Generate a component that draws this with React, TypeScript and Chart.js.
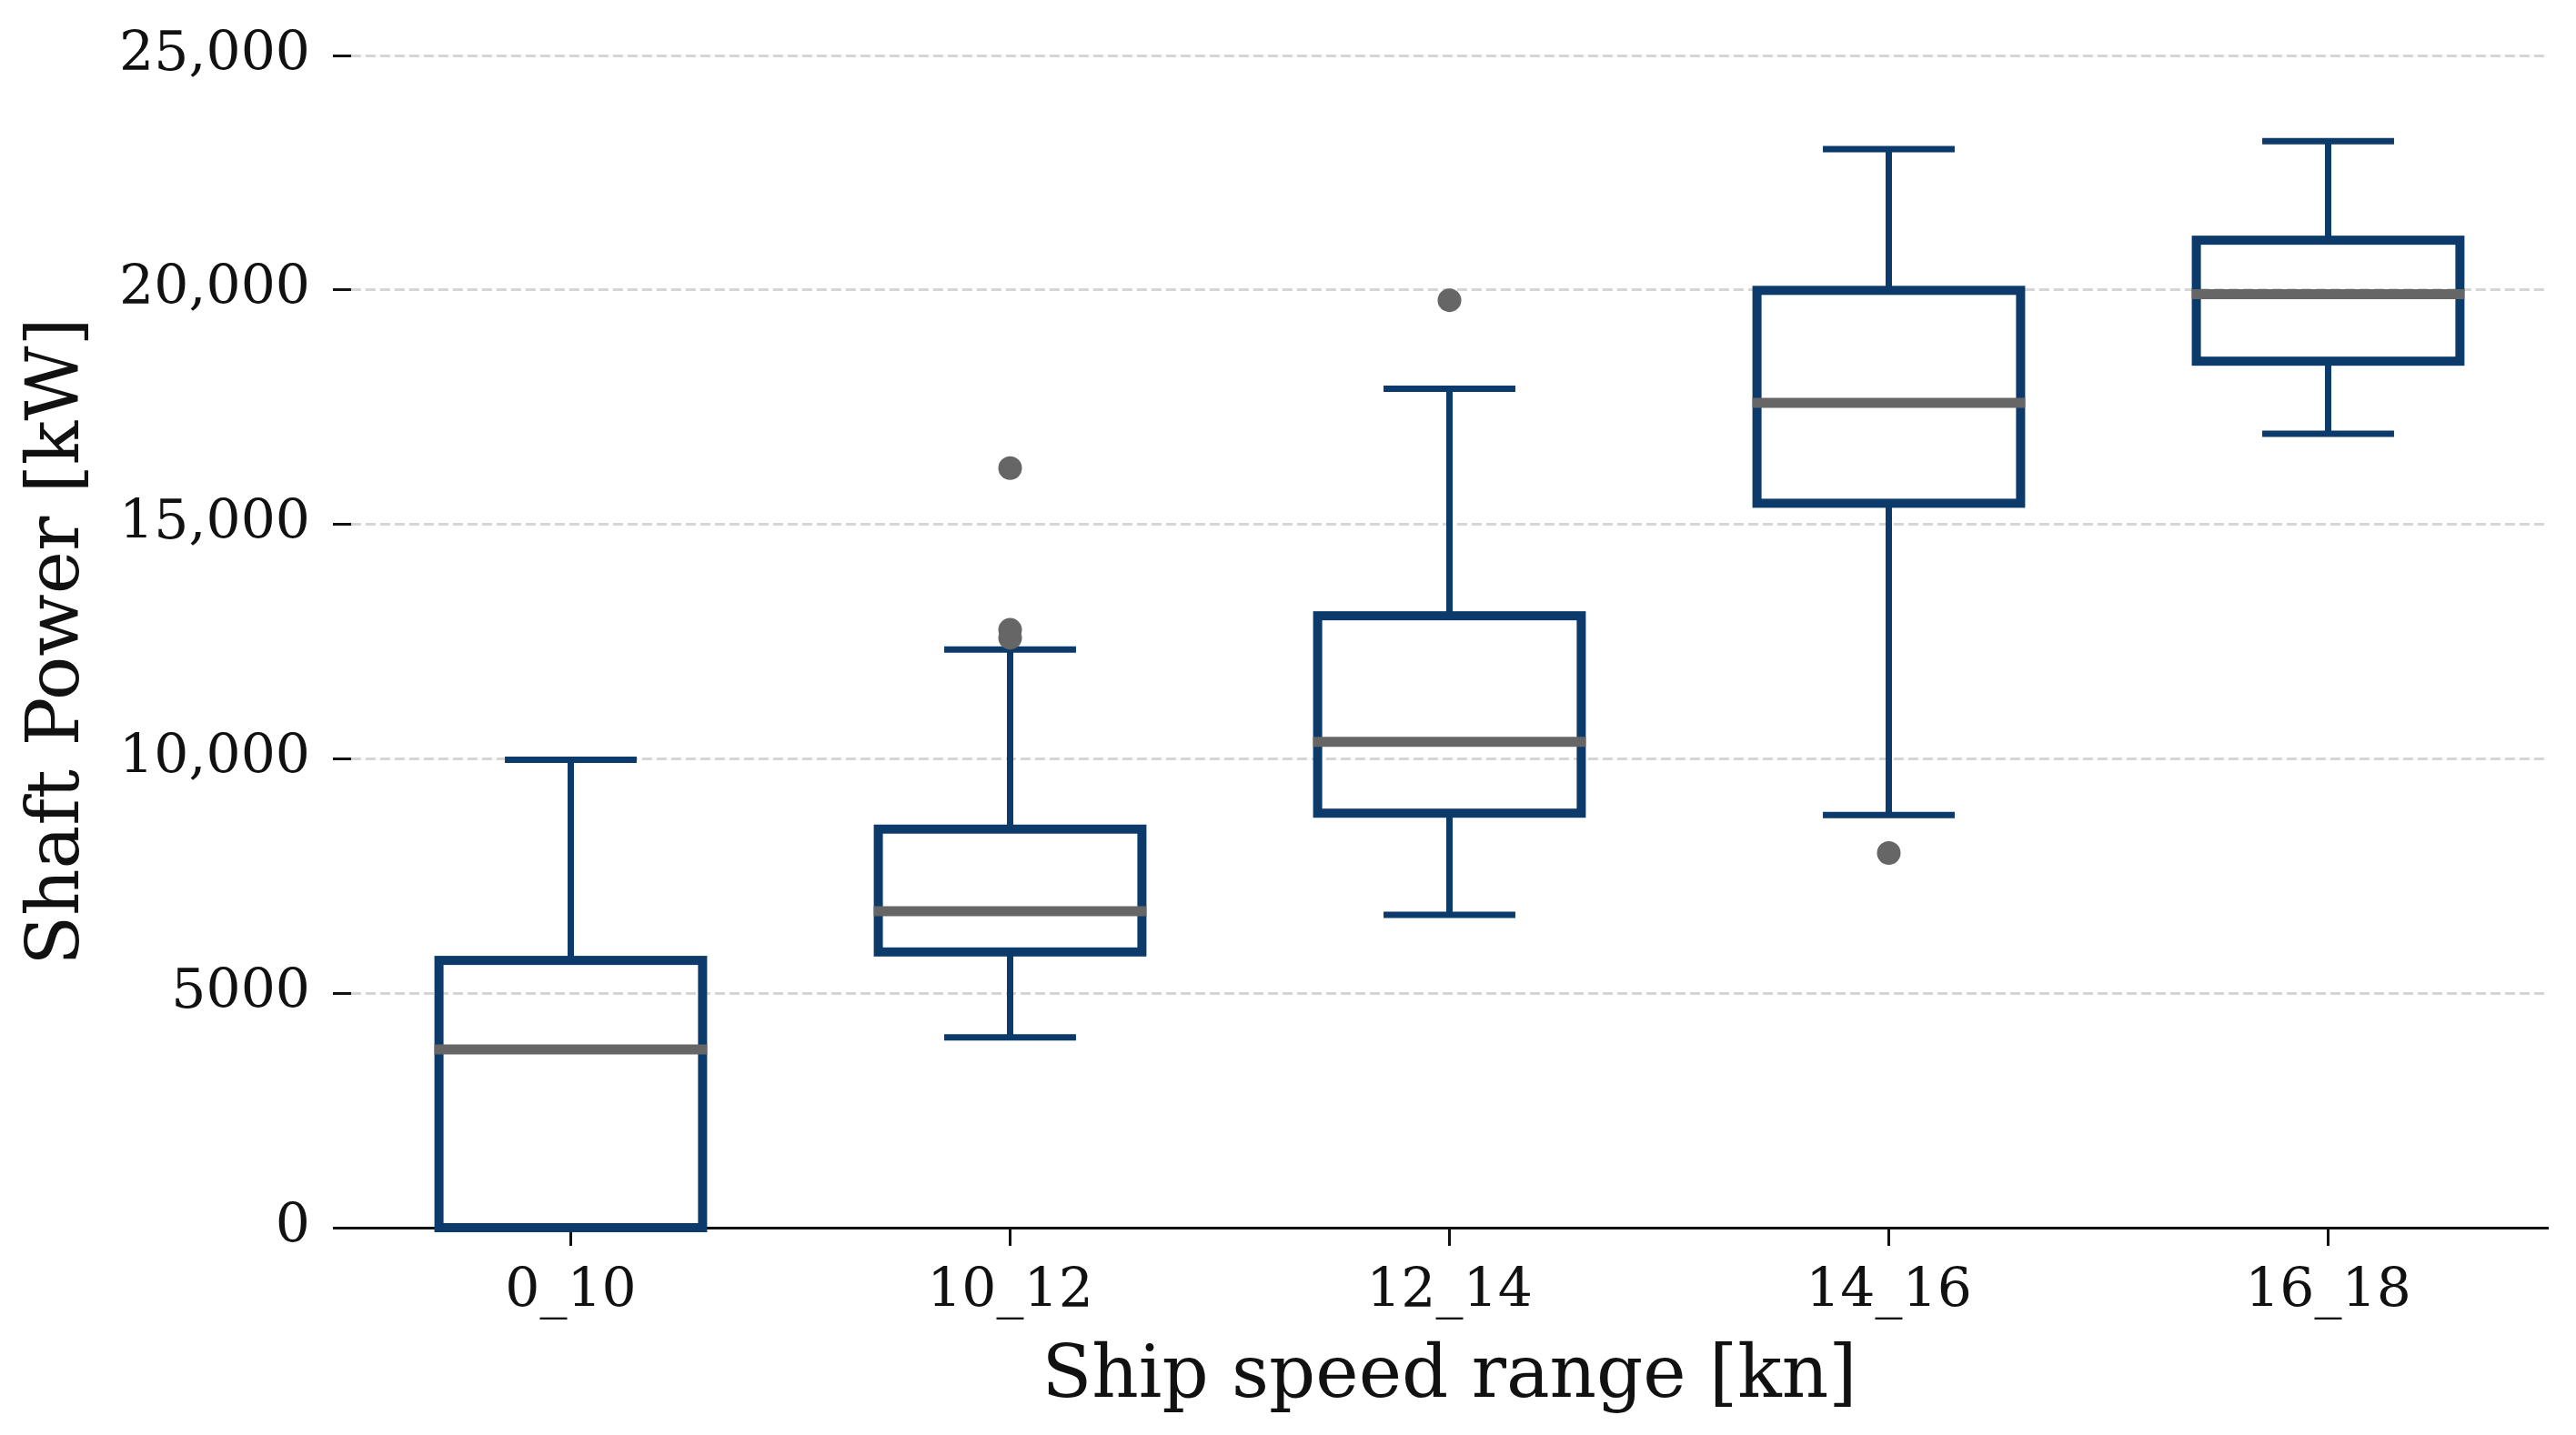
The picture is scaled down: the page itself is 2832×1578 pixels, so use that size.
import { useEffect, useRef } from 'react';
import { Chart, registerables } from 'chart.js';

Chart.register(...registerables);

// box statistics per speed range
const categories = ['0_10', '10_12', '12_14', '14_16', '16_18'];
const whiskerLow = [0, 4060, 6670, 8800, 16930];
const q1 = [0, 5880, 8840, 15450, 18480];
const medians = [3800, 6750, 10360, 17590, 19910];
const q3 = [5700, 8500, 13050, 19990, 21060];
const whiskerHigh = [9980, 12330, 17890, 23000, 23170];

// fliers
const outlierCategories = ['10_12', '10_12', '10_12', '12_14', '14_16'];
const outlierValues = [16200, 12750, 12580, 19780, 7990];

const yTickLabels = ['0', '5000', '10,000', '15,000', '20,000', '25,000'];

const NAVY = '#0b3a6b';
const GREY = '#666666';
const FONT = "'DejaVu Serif', serif";
const BOX_LINE = 10;

// box outline (centred on the quartiles), whiskers, caps and medians,
// drawn on top of the invisible floating bars that give the positions
const boxExtras = {
  id: 'boxExtras',
  afterDatasetDraw(chart: any, args: any) {
    if (args.index !== 0) return;
    const { ctx } = chart;
    const yScale = chart.scales.y;
    const meta = chart.getDatasetMeta(0);
    ctx.save();
    meta.data.forEach((bar: any, i: number) => {
      const x = bar.x;
      const half = bar.width / 2;
      const capHalf = bar.width / 4;
      const yQ1 = yScale.getPixelForValue(q1[i]);
      const yQ3 = yScale.getPixelForValue(q3[i]);
      const yLo = yScale.getPixelForValue(whiskerLow[i]);
      const yHi = yScale.getPixelForValue(whiskerHigh[i]);
      const yMed = yScale.getPixelForValue(medians[i]);

      ctx.strokeStyle = NAVY;
      ctx.lineCap = 'butt';
      ctx.lineWidth = 7;
      ctx.beginPath();
      ctx.moveTo(x, yQ3);
      ctx.lineTo(x, yHi);
      ctx.moveTo(x, yQ1);
      ctx.lineTo(x, yLo);
      ctx.stroke();

      ctx.beginPath();
      ctx.moveTo(x - capHalf, yHi);
      ctx.lineTo(x + capHalf, yHi);
      ctx.moveTo(x - capHalf, yLo);
      ctx.lineTo(x + capHalf, yLo);
      ctx.stroke();

      ctx.lineWidth = BOX_LINE;
      ctx.lineJoin = 'miter';
      ctx.strokeRect(x - half, yQ3, half * 2, yQ1 - yQ3);

      ctx.strokeStyle = GREY;
      ctx.lineWidth = 11;
      ctx.beginPath();
      ctx.moveTo(x - half - BOX_LINE / 2, yMed);
      ctx.lineTo(x + half + BOX_LINE / 2, yMed);
      ctx.stroke();
    });
    ctx.restore();
  },
};

export default function App() {
  const chartRef = useRef<HTMLCanvasElement>(null);
  const chartInstance = useRef<Chart | null>(null);

  useEffect(() => {
    if (!chartRef.current) return;
    if (chartInstance.current) chartInstance.current.destroy();
    const ctx = chartRef.current.getContext('2d');
    if (!ctx) return;

    chartInstance.current = new Chart(ctx, {
      type: 'bar',
      data: {
        labels: categories,
        datasets: [
          {
            type: 'bar',
            label: 'box',
            data: categories.map((_, i) => [q1[i], q3[i]]) as any,
            backgroundColor: 'rgba(0,0,0,0)',
            borderWidth: 0,
            barPercentage: 0.6,
            categoryPercentage: 1,
            order: 0,
          },
          {
            type: 'scatter',
            label: 'outliers',
            data: outlierCategories.map((c, i) => ({ x: c, y: outlierValues[i] })) as any,
            backgroundColor: GREY,
            borderWidth: 0,
            pointRadius: 13,
            order: -1,
          },
        ],
      },
      plugins: [boxExtras],
      options: {
        responsive: true,
        maintainAspectRatio: false,
        animation: false,
        layout: { padding: { top: 61, right: 31, left: 0, bottom: 0 } },
        plugins: {
          legend: { display: false },
          tooltip: { enabled: false },
        },
        scales: {
          x: {
            type: 'category',
            offset: true,
            afterFit: (scale: any) => {
              scale.height = 228;
            },
            grid: {
              offset: false,
              drawOnChartArea: false,
              drawTicks: true,
              tickLength: 20,
              tickColor: '#111',
              tickWidth: 3,
            },
            border: { display: true, color: '#111', width: 3 },
            ticks: {
              color: '#111',
              padding: 15,
              font: { family: FONT, size: 60 },
            },
            title: {
              display: true,
              text: 'Ship speed range [kn]',
              color: '#111',
              font: { family: FONT, size: 80 },
              padding: { top: 0, bottom: 15 },
            },
          },
          y: {
            min: 0,
            max: 25000,
            afterFit: (scale: any) => {
              scale.width = 386;
            },
            grid: {
              color: '#d6d6d6',
              lineWidth: 3,
              drawTicks: true,
              tickLength: 20,
              tickColor: '#111',
              tickWidth: 3,
              tickBorderDash: [],
            },
            border: { display: false, dash: [11, 5] },
            ticks: {
              stepSize: 5000,
              color: '#111',
              padding: 25,
              font: { family: FONT, size: 60 },
              callback: (value: any, index: number) => yTickLabels[index] ?? String(value),
            },
            title: {
              display: true,
              text: 'Shaft Power [kW]',
              color: '#111',
              font: { family: FONT, size: 80 },
              padding: { top: 17, bottom: 0 },
            },
          },
        },
      },
    });

    return () => {
      if (chartInstance.current) {
        chartInstance.current.destroy();
        chartInstance.current = null;
      }
    };
  }, []);

  return (
    <div style={{ position: 'fixed', left: 0, top: 0, width: '100vw', height: '100vh', background: '#fff' }}>
      <canvas ref={chartRef}></canvas>
    </div>
  );
}
